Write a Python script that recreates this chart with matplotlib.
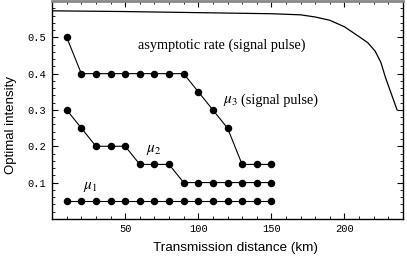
import numpy as np
import matplotlib
matplotlib.use("Agg")
import matplotlib.pyplot as plt
from matplotlib.ticker import MultipleLocator, FormatStrFormatter

# distances (km) where the intensities were optimised
dist = [10, 20, 30, 40, 50, 60, 70, 80, 90, 100, 110, 120, 130, 140, 150]
mu1 = [0.05] * 15
mu2 = [0.3, 0.25, 0.2, 0.2, 0.2, 0.15, 0.15, 0.15, 0.1, 0.1, 0.1, 0.1, 0.1, 0.1, 0.1]
mu3 = [0.5, 0.4, 0.4, 0.4, 0.4, 0.4, 0.4, 0.4, 0.4, 0.35, 0.3, 0.25, 0.15, 0.15, 0.15]

# asymptotic rate curve (signal pulse)
asym_x = [0, 50, 100, 150, 170, 180, 190, 200, 210, 216, 221, 225, 228, 232, 236]
asym_y = [0.573, 0.571, 0.568, 0.565, 0.562, 0.556, 0.547, 0.529, 0.502, 0.485, 0.462, 0.43, 0.39, 0.345, 0.30]

fig = plt.figure(figsize=(4.07, 2.56), dpi=100)
ax = fig.add_axes([0.128, 0.145, 0.862, 0.851])

ax.plot(asym_x, asym_y, color="black", lw=0.9)
for ys in (mu1, mu2, mu3):
    ax.plot(dist, ys, "-o", color="black", lw=0.8, ms=4.4)

ax.set_xlim(0, 240)
ax.set_ylim(0, 0.6)
ax.xaxis.set_minor_locator(MultipleLocator(10))
ax.yaxis.set_minor_locator(MultipleLocator(0.02))
ax.yaxis.set_major_formatter(FormatStrFormatter("%.1f"))
ax.set_yticks([0.1, 0.2, 0.3, 0.4, 0.5])
ax.set_xticks([50, 100, 150, 200])
ax.tick_params(which="both", direction="in", top=True, right=True)
ax.tick_params(which="major", length=4, width=0.8, labelsize=7.5, pad=4)
ax.tick_params(which="minor", length=2, width=0.6)
for lab in ax.get_xticklabels() + ax.get_yticklabels():
    lab.set_family("Liberation Mono")
for sp in ax.spines.values():
    sp.set_linewidth(1.0)
ax.spines["top"].set_color("#888888")
ax.spines["top"].set_linewidth(2.0)

ax.set_xlabel("Transmission distance (km)", family="Liberation Sans", fontsize=9.7)
ax.xaxis.set_label_coords(0.524, -0.105)
ax.set_ylabel("Optimal intensity", family="Liberation Sans", fontsize=9.5)
ax.yaxis.set_label_coords(-0.1, 0.43)

serif = "Liberation Serif"
ax.text(59, 0.478, "asymptotic rate (signal pulse)", family=serif, fontsize=10.3, va="center")
ax.text(117, 0.327, r"$\mu_3$", fontsize=11, va="center", math_fontfamily="stix")
ax.text(129.5, 0.327, "(signal pulse)", family=serif, fontsize=10.3, va="center")
ax.text(64, 0.19, r"$\mu_2$", fontsize=11, va="center", math_fontfamily="stix")
ax.text(21, 0.089, r"$\mu_1$", fontsize=11, va="center", math_fontfamily="stix")

fig.savefig("out.png", dpi=100)
